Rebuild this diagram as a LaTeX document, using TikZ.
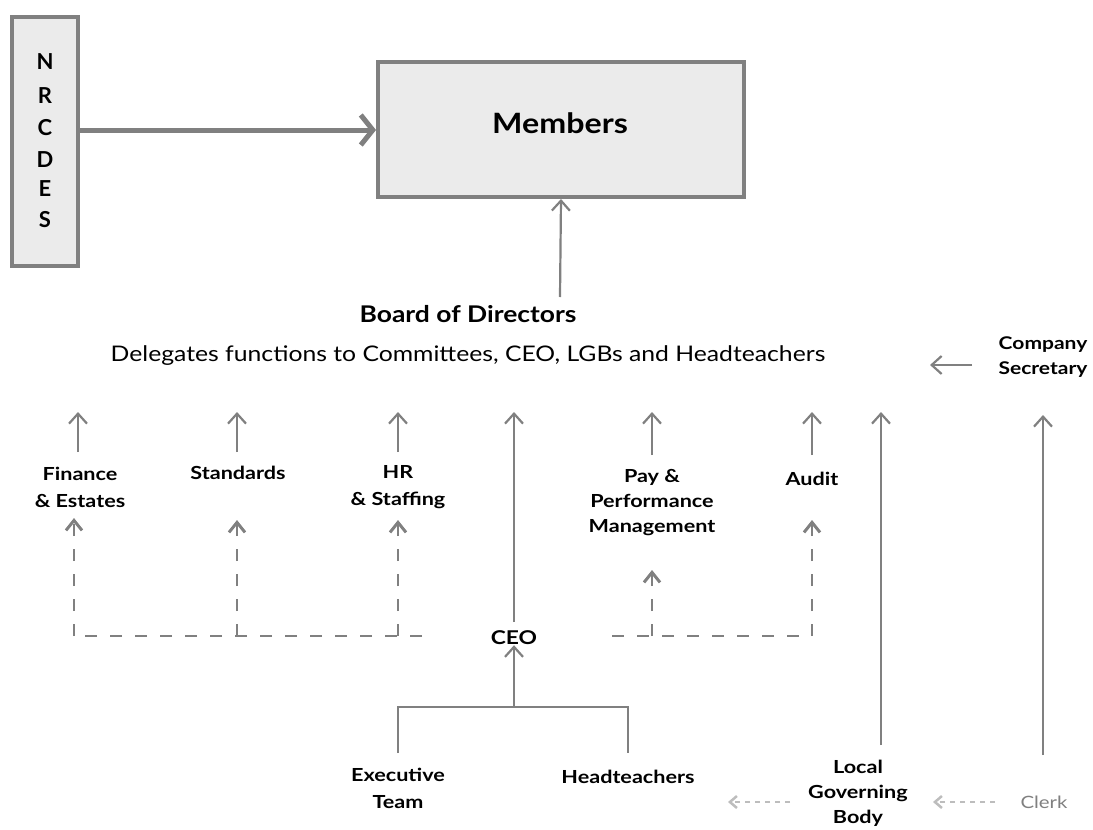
\documentclass[tikz,border=0pt]{standalone}
\usepackage{fontspec}
\setmainfont{Lato}
\newfontfamily\wide{Lato}[FakeStretch=1.2]
\newfontfamily\wideb{Lato}[FakeStretch=1.15]
\usetikzlibrary{arrows.meta}
\definecolor{ln}{HTML}{808080}
\definecolor{bx}{HTML}{EBEBEB}
\definecolor{lt}{HTML}{BDBDBD}
\tikzset{
  lbl/.style={font=\wide\bfseries\fontsize{18}{27}\selectfont, align=center, inner sep=0pt},
  solidarr/.style={draw=ln, line width=2.2pt, -{Straight Barb[length=10pt,width=18pt,line width=2.2pt]}},
  dasharr/.style={draw=ln, line width=2.2pt, dash pattern=on 12pt off 13pt, -{Straight Barb[length=10pt,width=16pt,line width=3pt]}},
  dashln/.style={draw=ln, line width=2.2pt, dash pattern=on 12pt off 13pt},
  plainln/.style={draw=ln, line width=2.2pt},
  lightarr/.style={draw=lt, line width=1.5pt, dash pattern=on 5pt off 5pt, -{Straight Barb[length=7pt,width=12pt,line width=2.5pt]}},
}
\begin{document}
\begin{tikzpicture}[x=1pt,y=-1pt]
\useasboundingbox (0,0) rectangle (1093,830);
% boxes
\node[draw=ln, fill=bx, line width=4pt, minimum width=66pt, minimum height=249pt, inner sep=0pt] (nrc) at (45,141.5) {};
\foreach \l/\yy in {N/62,R/96,C/128,D/160,E/189,S/220}
  \node[font=\bfseries\fontsize{22}{22}\selectfont, inner sep=0pt] at (45,\yy) {\l};
\node[draw=ln, fill=bx, line width=4pt, minimum width=366pt, minimum height=135pt, inner sep=0pt] (mem) at (561,129.5) {};
\node[font=\wideb\bfseries\fontsize{28}{28}\selectfont, inner sep=0pt] at (560,123) {Members};
\draw[draw=ln, line width=5pt, -{Straight Barb[length=12pt,width=30pt,line width=5pt]}] (nrc.east |- 0,130) -- (mem.west |- 0,130);

% board
\node[font=\wideb\bfseries\fontsize{23}{23}\selectfont, inner sep=0pt] (board) at (468,314) {Board of Directors};
\node[font=\wideb\fontsize{21.5}{21.5}\selectfont, inner sep=0pt] (deleg) at (468,356) {Delegates functions to Committees, CEO, LGBs and Headteachers};
\draw[solidarr] (560,297) -- (mem.south);

% company secretary
\node[lbl, font=\wide\bfseries\fontsize{17.5}{25}\selectfont] (cs) at (1043,357) {Company\\Secretary};
\coordinate (csL) at (972,365);
\coordinate (csT) at (930,365);
\draw[solidarr] (csL) -- (csT);

% committees
\node[lbl] (fin) at (80,487) {Finance\\\& Estates};
\node[lbl] (std) at (238,473) {Standards};
\node[lbl] (hr) at (398,487) {HR\\\& Staffing};
\node[lbl, font=\wide\bfseries\fontsize{18}{25}\selectfont] (pay) at (652,503) {Pay \&\\Performance\\Management};
\node[lbl] (aud) at (812,479) {Audit};

\foreach \n/\xx/\yy in {fin/78/452,std/237/452,hr/398/452,pay/652/455,aud/812/455}
  \draw[solidarr] (\xx,\yy) -- (\xx,412);

% CEO
\node[font=\wide\bfseries\fontsize{19}{19}\selectfont, inner sep=0pt] (ceo) at (514,638) {CEO};
\draw[solidarr] (514,622) -- (514,412);

% dashed
\coordinate (dl) at (74,636);
\coordinate (dr) at (812,636);
\draw[dashln] (422,636) -- (dl);
\draw[dashln] (612,636) -- (dr);
\draw[dasharr] (74,636) -- (74,518);
\draw[dasharr] (237,636) -- (237,520);
\draw[dasharr] (398,636) -- (398,520);
\draw[dasharr] (652,636) -- (652,570);
\draw[dasharr] (812,636) -- (812,520);

% bottom
\node[lbl] (exec) at (398,788) {Executive\\Team};
\node[lbl] (head) at (628,777) {Headteachers};
\draw[plainln] (398,753) -- (398,707) -- (628,707) -- (628,753);
\coordinate (br) at (514,707);
\draw[solidarr] (br) -- (br |- ceo.south);

\node[lbl, font=\wide\bfseries\fontsize{18}{25}\selectfont] (lgb) at (858,793) {Local\\Governing\\Body};
\draw[solidarr] (881,745) -- (881,412);
\node[font=\wide\fontsize{17}{17}\selectfont, text=ln, inner sep=0pt] (clerk) at (1044,802) {Clerk};
\draw[solidarr] (1043,755) -- (1043,415);
\draw[lightarr] (995,802) -- (933,802);
\draw[lightarr] (790,802) -- (728,802);
\end{tikzpicture}
\end{document}
